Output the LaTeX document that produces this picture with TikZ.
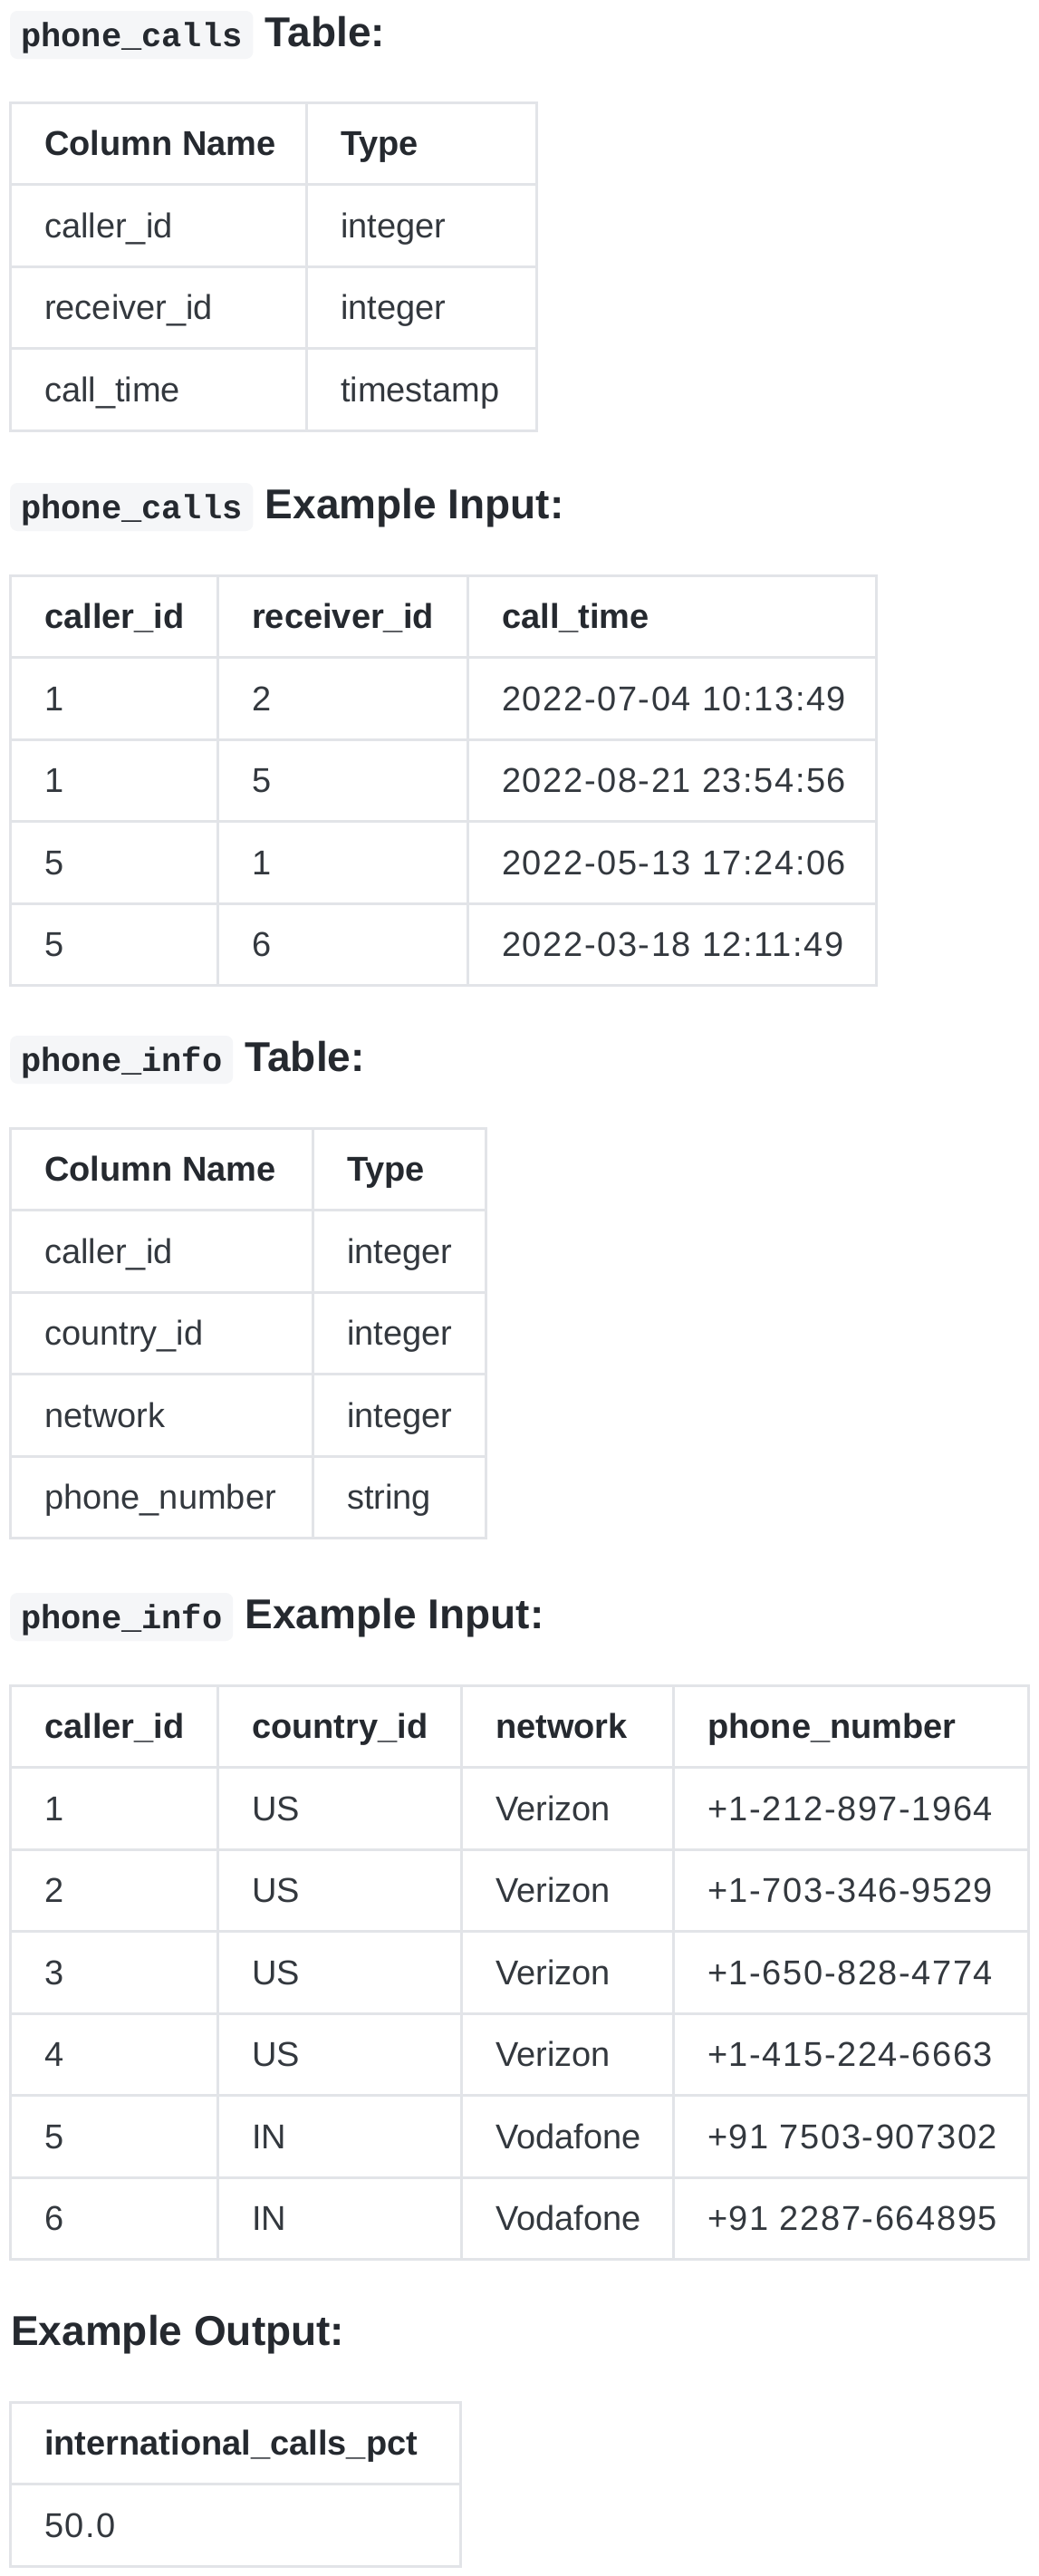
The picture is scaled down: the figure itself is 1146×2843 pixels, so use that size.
\documentclass[tikz,border=0pt]{standalone}
\usepackage{fontspec}
\setmainfont{Liberation Sans}
\setmonofont{Liberation Mono}
\definecolor{txt}{HTML}{33383E}
\definecolor{hdr}{HTML}{25292F}
\definecolor{grid}{HTML}{E2E4E8}
\definecolor{codebg}{HTML}{F5F6F8}
\tikzset{
  body/.style={anchor=base west, inner sep=0pt, text=txt, font=\fontsize{38}{44}\selectfont},
  num/.style={body, font=\fontsize{38}{44}\selectfont\addfontfeature{LetterSpace=4.2}},
  head/.style={anchor=base west, inner sep=0pt, text=hdr, font=\fontsize{38}{44}\selectfont\bfseries},
  codelbl/.style={anchor=base west, fill=codebg, rounded corners=8pt, inner xsep=12pt, inner ysep=0pt,
    text height=39pt, text depth=14pt, text=hdr, font=\fontsize{37}{44}\selectfont\ttfamily\bfseries},
  heading/.style={anchor=base west, inner sep=0pt, text=hdr, font=\fontsize{46}{52}\selectfont\bfseries},
  gridline/.style={draw=grid, line width=3pt}
}
\begin{document}
\begin{tikzpicture}[x=1pt,y=-1pt]
\useasboundingbox (0,0) rectangle (1146,2843);
\fill[white] (0,0) rectangle (1146,2843);

% ---------- Title 1 ----------
\node[codelbl] (c1) at (11,51) {phone\_calls};
\node[heading] (h1) at ([xshift=13pt]c1.base east) {Table:};

% Table 1 grid
\draw[gridline] (11,113) rectangle (592,475);
\foreach \y in {203.5,294,384.5} \draw[gridline] (11,\y) -- (592,\y);
\draw[gridline] (338,113) -- (338,475);
\node[head] (t1h1) at (49,171) {Column Name};
\node[head] (t1h2) at (376,171) {Type};
\node[body] (t1a1) at (49,262) {caller\_id};
\node[body] (t1b1) at (376,262) {integer};
\node[body] (t1a2) at (49,352) {receiver\_id};
\node[body] (t1b2) at (376,352) {integer};
\node[body] (t1a3) at (49,443) {call\_time};
\node[body] (t1b3) at (376,443) {timestamp};

% ---------- Title 2 ----------
\node[codelbl] (c2) at (11,572) {phone\_calls};
\node[heading] (h2) at ([xshift=13pt]c2.base east) {Example Input:};

\draw[gridline] (11,635) rectangle (967,1087.5);
\foreach \y in {725.5,816,906.5,997} \draw[gridline] (11,\y) -- (967,\y);
\foreach \x in {240,516} \draw[gridline] (\x,635) -- (\x,1087.5);
\node[head] (t2h1) at (49,693) {caller\_id};
\node[head] (t2h2) at (278,693) {receiver\_id};
\node[head] (t2h3) at (554,693) {call\_time};
\node[num] (t2a1) at (49,784) {1};
\node[num] (t2b1) at (278,784) {2};
\node[num] (t2c1) at (554,784) {2022-07-04 10:13:49};
\node[num] (t2a2) at (49,874) {1};
\node[num] (t2b2) at (278,874) {5};
\node[num] (t2c2) at (554,874) {2022-08-21 23:54:56};
\node[num] (t2a3) at (49,965) {5};
\node[num] (t2b3) at (278,965) {1};
\node[num] (t2c3) at (554,965) {2022-05-13 17:24:06};
\node[num] (t2a4) at (49,1055) {5};
\node[num] (t2b4) at (278,1055) {6};
\node[num] (t2c4) at (554,1055) {2022-03-18 12:11:49};

% ---------- Title 3 ----------
\node[codelbl] (c3) at (11,1182) {phone\_info};
\node[heading] (h3) at ([xshift=13pt]c3.base east) {Table:};

\draw[gridline] (11,1245) rectangle (536,1697.5);
\foreach \y in {1335.5,1426,1516.5,1607} \draw[gridline] (11,\y) -- (536,\y);
\draw[gridline] (345,1245) -- (345,1697.5);
\node[head] (t3h1) at (49,1303) {Column Name};
\node[head] (t3h2) at (383,1303) {Type};
\node[body] (t3a1) at (49,1394) {caller\_id};
\node[body] (t3b1) at (383,1394) {integer};
\node[body] (t3a2) at (49,1484) {country\_id};
\node[body] (t3b2) at (383,1484) {integer};
\node[body] (t3a3) at (49,1575) {network};
\node[body] (t3b3) at (383,1575) {integer};
\node[body] (t3a4) at (49,1665) {phone\_number};
\node[body] (t3b4) at (383,1665) {string};

% ---------- Title 4 ----------
\node[codelbl] (c4) at (11,1797) {phone\_info};
\node[heading] (h4) at ([xshift=13pt]c4.base east) {Example Input:};

\draw[gridline] (11,1860) rectangle (1135,2493.5);
\foreach \y in {1950.5,2041,2131.5,2222,2312.5,2403} \draw[gridline] (11,\y) -- (1135,\y);
\foreach \x in {240,509,743} \draw[gridline] (\x,1860) -- (\x,2493.5);
\node[head] (t4h1) at (49,1918) {caller\_id};
\node[head] (t4h2) at (278,1918) {country\_id};
\node[head] (t4h3) at (547,1918) {network};
\node[head] (t4h4) at (781,1918) {phone\_number};
\node[num] (t4a1) at (49,2009) {1};
\node[body] (t4b1) at (278,2009) {US};
\node[body] (t4c1) at (547,2009) {Verizon};
\node[num] (t4d1) at (781,2009) {+1-212-897-1964};
\node[num] (t4a2) at (49,2099) {2};
\node[body] (t4b2) at (278,2099) {US};
\node[body] (t4c2) at (547,2099) {Verizon};
\node[num] (t4d2) at (781,2099) {+1-703-346-9529};
\node[num] (t4a3) at (49,2190) {3};
\node[body] (t4b3) at (278,2190) {US};
\node[body] (t4c3) at (547,2190) {Verizon};
\node[num] (t4d3) at (781,2190) {+1-650-828-4774};
\node[num] (t4a4) at (49,2280) {4};
\node[body] (t4b4) at (278,2280) {US};
\node[body] (t4c4) at (547,2280) {Verizon};
\node[num] (t4d4) at (781,2280) {+1-415-224-6663};
\node[num] (t4a5) at (49,2371) {5};
\node[body] (t4b5) at (278,2371) {IN};
\node[body] (t4c5) at (547,2371) {Vodafone};
\node[num] (t4d5) at (781,2371) {+91 7503-907302};
\node[num] (t4a6) at (49,2461) {6};
\node[body] (t4b6) at (278,2461) {IN};
\node[body] (t4c6) at (547,2461) {Vodafone};
\node[num] (t4d6) at (781,2461) {+91 2287-664895};

% ---------- Title 5 ----------
\node[heading] (h5) at (12,2588) {Example Output:};
\draw[gridline] (11,2651) rectangle (508,2832);
\draw[gridline] (11,2741.5) -- (508,2741.5);
\node[head] (t5h1) at (49,2709) {international\_calls\_pct};
\node[num] (t5a1) at (49,2800) {50.0};
\end{tikzpicture}
\end{document}
